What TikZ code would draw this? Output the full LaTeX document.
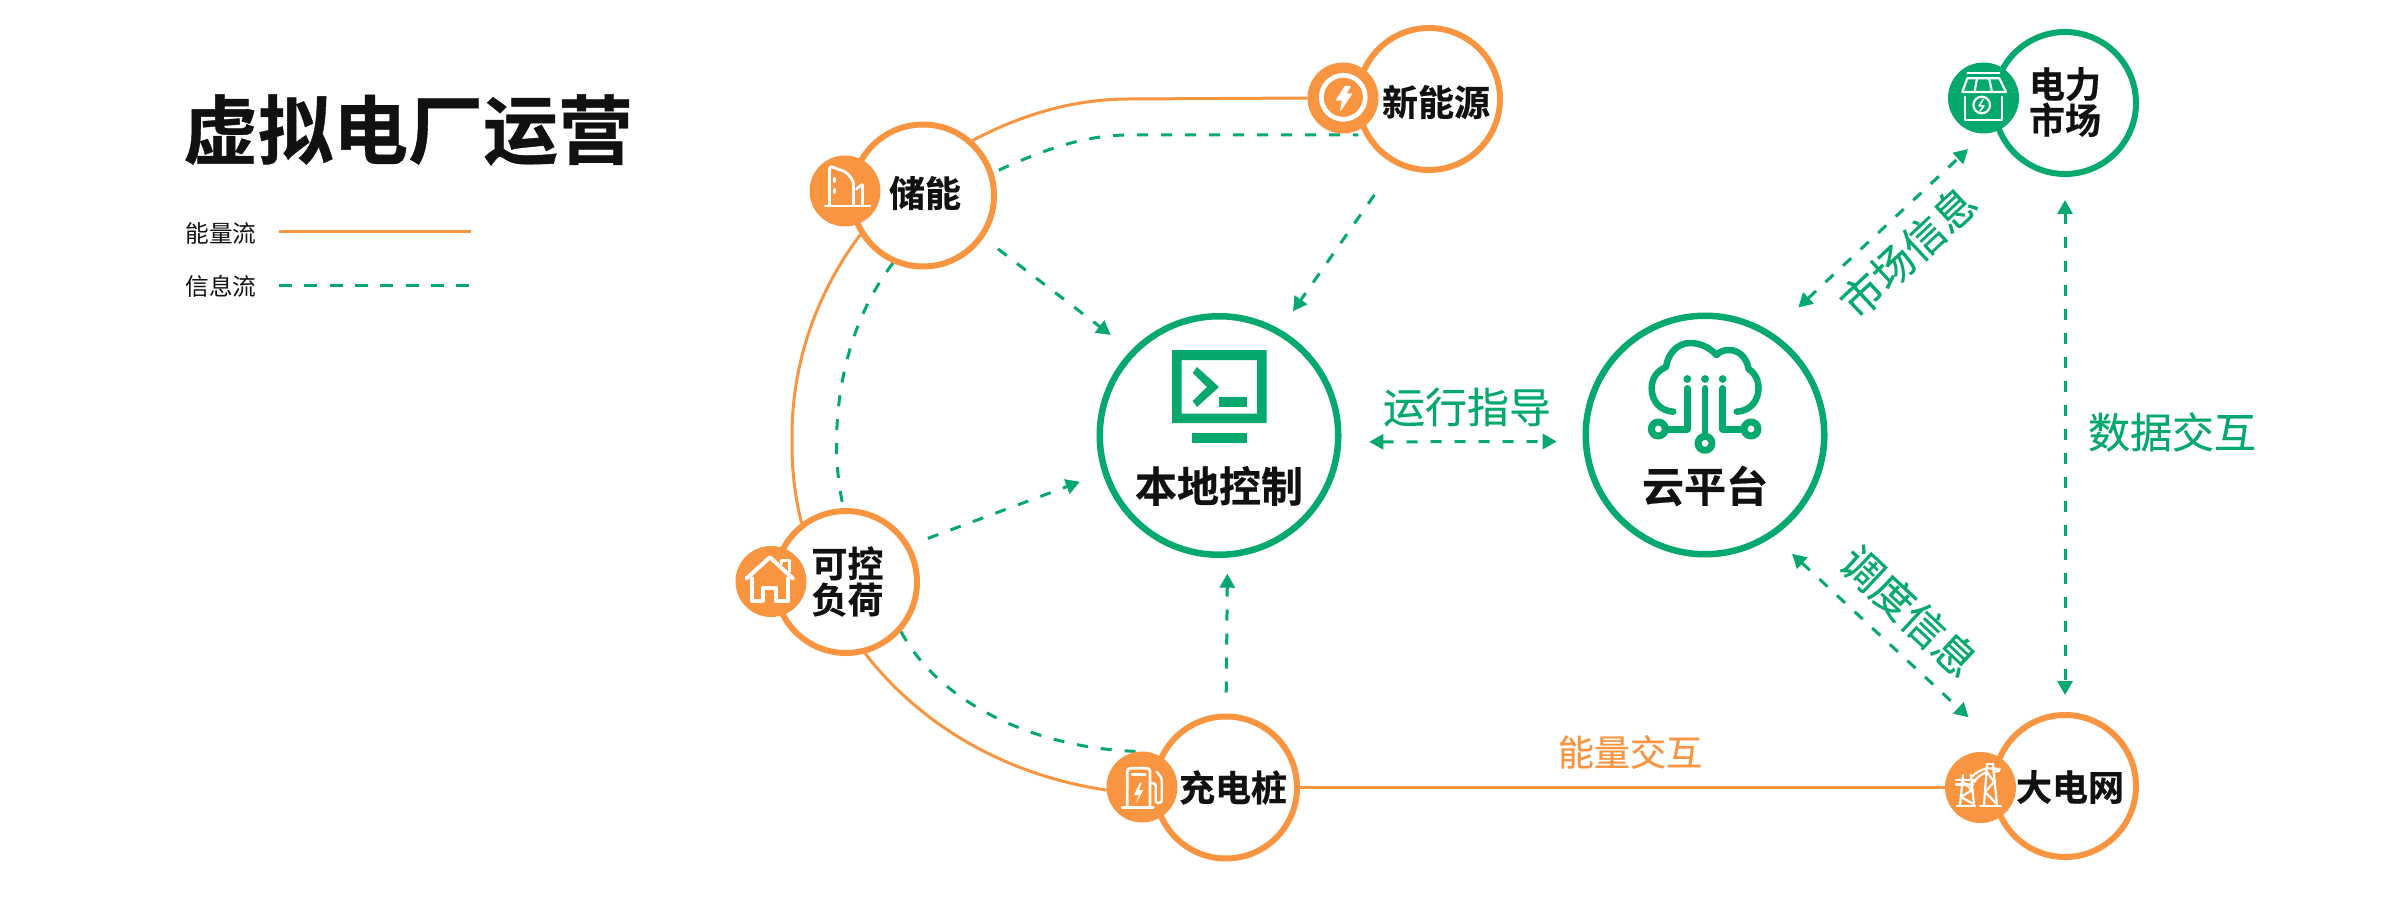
\documentclass[tikz,border=0pt]{standalone}
\usepackage{fontspec}
\usetikzlibrary{arrows.meta,calc}
\newfontfamily\cjk{Noto Sans CJK SC}
\newfontfamily\cjkh[UprightFont=* Bold,FakeBold=0.5]{Noto Sans CJK SC}
\newfontfamily\cjkm[FakeBold=0.25]{Noto Sans CJK SC}
\definecolor{vorange}{HTML}{F99440}
\definecolor{vgreen}{HTML}{05A86D}
\definecolor{vink}{HTML}{111111}
\pgfdeclarelayer{bg}
\pgfsetlayers{bg,main}
\newcommand{\fsz}[1]{\fontsize{#1}{#1}\selectfont}
\tikzset{
  ringO/.style={circle,draw=vorange,line width=6pt,fill=white,minimum size=142pt,inner sep=0pt},
  ringG/.style={circle,draw=vgreen,line width=6pt,fill=white,minimum size=142pt,inner sep=0pt},
  bigG/.style={circle,draw=vgreen,line width=6.5pt,fill=white,minimum size=238.5pt,inner sep=0pt},
  discO/.style={circle,fill=vorange,minimum size=71pt,inner sep=0pt,outer sep=0pt},
  discG/.style={circle,fill=vgreen,minimum size=71pt,inner sep=0pt,outer sep=0pt},
  nameS/.style={font=\cjkh\fsz{36},text=vink,inner sep=0pt,align=center},
  nameB/.style={font=\cjkh\fsz{42},text=vink,inner sep=0pt},
  lblG/.style={font=\cjkm\fsz{42},text=vgreen,inner sep=0pt},
  lblO/.style={font=\cjkm\fsz{36},text=vorange,inner sep=0pt},
  lgd/.style={font=\cjk\fsz{23.7},text=vink,inner sep=0pt},
  energy/.style={draw=vorange,line width=3pt},
  infoflow/.style={draw=vgreen,line width=3pt,dash pattern=on 11pt off 13pt},
  tip/.style={-{Triangle[length=14pt,width=15pt]}},
  tips/.style={{Triangle[length=14pt,width=15pt]}-{Triangle[length=14pt,width=15pt]}},
  icn/.style={draw=white,line width=2.8pt,line join=round,line cap=round},
  gicn/.style={draw=vgreen,line width=6.5pt,line join=round,line cap=round},
}
\begin{document}
\begin{tikzpicture}[x=1pt,y=-1pt]
\useasboundingbox (0,0) rectangle (2401,901);
% title and legend
\node[font=\cjkh\fsz{75},text=vink,inner sep=0pt] (title) at (408,130) {虚拟电厂运营};
\node[lgd] (lg1) at (221,233) {能量流};
\node[lgd] (lg2) at (221,286.5) {信息流};
\coordinate (lg1a) at (279,232); \coordinate (lg1b) at (471,232);
\coordinate (lg2a) at (279,286); \coordinate (lg2b) at (471,286);
\draw[energy] (lg1a) -- (lg1b);
\draw[draw=vgreen,line width=3pt,dash pattern=on 13pt off 12.3pt] (lg2a) -- (lg2b);
% nodes
\node[bigG] (ben) at (1219,435.5) {};
\node[bigG] (yun) at (1705,435) {};
\node[ringO] (chu) at (923,195.5) {};
\node[ringO] (xin) at (1429,99) {};
\node[ringO] (ke) at (846,582) {};
\node[ringO] (chong) at (1226,787.5) {};
\node[ringG] (shi) at (2065,103) {};
\node[ringO] (da) at (2065,786) {};
\node[discO] (chuI) at (845,191) {};
\node[discO] (xinI) at (1343,98) {};
\node[discO] (keI) at (771,581.5) {};
\node[discO] (chongI) at (1142,787) {};
\node[discG] (shiI) at (1983.5,98) {};
\node[discO] (daI) at (1980.5,787.5) {};
\node[nameB] (benT) at (1219,486) {本地控制};
\node[nameB] (yunT) at (1705,486) {云平台};
\node[nameS] (chuT) at (925,193) {储能};
\node[nameS] (xinT) at (1436,102) {新能源};
\node[nameS,text width=74pt] (keT) at (847.5,581.5) {\baselineskip=36pt 可控\\负荷};
\node[nameS] (chongT) at (1233,787.5) {充电桩};
\node[nameS,text width=74pt] (shiT) at (2065,102) {\baselineskip=36pt 电力\\市场};
\node[nameS] (daT) at (2070,787) {大电网};
% labels
\node[lblG] (l1) at (1467,407) {运行指导};
\node[lblG,rotate=43] (l2) at (1908,252) {市场信息};
\node[lblG,rotate=-43] (l3) at (1909,611) {调度信息};
\node[lblG] (l4) at (2172,432) {数据交互};
\node[lblO] (l5) at (1630,752) {能量交互};
% connectors
\begin{pgfonlayer}{bg}
\draw[energy] (chu.48) .. controls (1021.5,114.5) and (1074,99) .. (1129,99) -- (xinI.west);
\draw[energy] (chu.212) .. controls (816.5,293) and (792,363) .. (792,436) -- (792,445) .. controls (792,471) and (795,497) .. (ke.127);
\draw[energy] (ke.285) .. controls (924,729.4) and (1011,776) .. (chongI.185);
\draw[energy] (chong.east) -- (daI.west);
\draw[infoflow,shorten <=6pt,shorten >=6pt] (chu.18) .. controls (1041,151) and (1083,135) .. (1129,135) -- (xin.209.1);
\draw[infoflow] (chu.246) .. controls (854,314) and (836.5,380) .. (836.5,445) .. controls (836.5,466) and (839,487) .. (ke.92);
\draw[infoflow] (ke.318) .. controls (940,705) and (1040,750) .. (chongI.north);
\draw[infoflow,tip,shorten <=18pt,shorten >=25.5pt] (chu.-35.5) -- (ben.136.6);
\draw[infoflow,tip,shorten <=36.5pt,shorten >=22.2pt] (xin.243.6) -- (ben.60.3);
\draw[infoflow,tip,shorten <=19pt,shorten >=24.1pt] (ke.30.7) -- (ben.198.2);
\draw[infoflow,tip,shorten <=21pt,shorten >=16pt] (chong.north) -- (ben.-86.7);
\draw[infoflow,tips,shorten <=28pt,shorten >=26pt] (ben.-3.5) -- (yun.183.75);
\draw[infoflow,tips,shorten <=36.3pt,shorten >=35.8pt] (yun.57) -- (shi.197);
\draw[infoflow,tips,shorten <=25.3pt,shorten >=45pt] (yun.-56.8) -- (da.149.6);
\draw[infoflow,tips,shorten <=23pt,shorten >=17pt] (shi.south) -- (da.north);
\end{pgfonlayer}
% monitor icon
\fill[vgreen,even odd rule] (1172,350) rectangle (1266.5,423) (1181.5,360) rectangle (1257,413.5);
\fill[vgreen] (1192.7,373) -- (1197,367) -- (1219,387) -- (1197,407) -- (1192.7,401) -- (1207,387) -- cycle;
\fill[vgreen] (1219,397) rectangle (1246.5,407);
\fill[vgreen] (1192,433) rectangle (1246.5,443);
% cloud icon
\draw[gicn] (1673.3,411.7) .. controls (1660,411) and (1651.7,401) .. (1651.7,388.3) .. controls (1651.7,378) and (1657,371) .. (1666,367) .. controls (1668,353) and (1678,343) .. (1690,343) .. controls (1701,343) and (1710,348) .. (1716.5,355) .. controls (1720,351) and (1725,350) .. (1729,350) .. controls (1739,350) and (1747,358) .. (1748.5,369) .. controls (1755,373) and (1758.5,380) .. (1758.5,388.3) .. controls (1758.5,401) and (1750,411) .. (1736.7,411.7);
\fill[vgreen] (1687.3,379) circle[radius=3.9pt] (1705,379) circle[radius=3.9pt] (1722.7,379) circle[radius=3.9pt];
\draw[gicn] (1705,388.3) -- (1705,436);
\draw[gicn] (1687.3,388.3) -- (1687.3,429.3) -- (1665,429.3);
\draw[gicn] (1722.7,388.3) -- (1722.7,429.3) -- (1745,429.3);
\draw[gicn,line width=7pt,fill=white] (1705,443.3) circle[radius=7pt];
\draw[gicn,line width=7pt,fill=white] (1658.3,429) circle[radius=7pt];
\draw[gicn,line width=7pt,fill=white] (1751,429) circle[radius=7pt];
% storage icon
\draw[icn] (825,206) -- (870,206);
\draw[icn,rounded corners=3pt] (829.5,206) -- (829.5,166) -- (846,172) -- (853.5,181) -- (853.5,206);
\draw[icn,rounded corners=1pt] (856.5,189) -- (862.5,184) -- (862.5,206);
\draw[icn,line width=3.5pt] (834.5,178.5) -- (834.5,181.5) (834.5,189.5) -- (834.5,192.5);
% new-energy icon
\draw[draw=white,line width=4.7pt] (1343.3,97.3) circle[radius=22pt];
\filldraw[fill=white,draw=white,line width=1.2pt,line join=round] (1345,86.6) -- (1336.6,100) -- (1342.6,100) -- (1340.6,110) -- (1351.6,94) -- (1345.6,94) -- (1350,86.6) -- cycle;
% house icon
\draw[icn,line width=4pt] (746.7,578.3) -- (770,557.3) -- (792.7,578.3);
\draw[icn,line width=4pt] (751.7,578.3) -- (751.7,600.7) -- (762.7,600.7) -- (762.7,588.3) -- (776,588.3) -- (776,600.7) -- (788.3,600.7) -- (788.3,578.3);
\draw[icn,line width=3pt] (781,563.5) -- (781,560) -- (789,560) -- (789,571.7);
% charger icon
\draw[icn] (1122.3,807.3) -- (1153.3,807.3);
\draw[icn,rounded corners=3pt] (1127.3,807) -- (1127.3,768.3) -- (1150,768.3) -- (1150,807);
\draw[icn,line width=3pt] (1132,774.3) -- (1145,774.3);
\fill[white] (1140,782.7) -- (1134,795) -- (1138.7,795) -- (1136,803.3) -- (1143.3,790) -- (1139,790) -- (1141.7,782.7) -- cycle;
\draw[icn,line width=2.4pt,rounded corners=2.5pt] (1150,783.3) -- (1155.7,783.3) -- (1155.7,803) -- (1161.7,803) -- (1161.7,778) -- (1156.7,771.7);
% tower icon
\begin{scope}[icn,line width=2.2pt]
\draw (1956.7,805.7) -- (1975,805.7) (1980,805.7) -- (2001,805.7);
\draw (1963,775) -- (1960,805) (1971,775) -- (1974,805);
\draw (1963,782) -- (1972,790) -- (1961,797) -- (1973.5,804);
\draw (1956,780) -- (1975,780) (1956,784.5) -- (1973,784.5);
\draw (1987,764) -- (1984,805) (1993,764) -- (1997,805);
\draw (1987,772) -- (1994,782) -- (1985,792) -- (1996,803);
\draw (1987,764) -- (1993,764);
\draw (1971.7,776.7) .. controls (1976,772) and (1981,770) .. (1987,768.3);
\draw (1974,782) .. controls (1978,776) and (1982,774) .. (1987,772);
\draw (1987,768.3) -- (2000,769) (1993,772) -- (1999,771);
\end{scope}
% market icon
\begin{scope}[icn,line width=2.2pt]
\draw (1967.3,73.3) -- (1999.3,73.3);
\draw (1967.3,78.3) -- (1999.3,78.3) -- (2006,92) -- (1962.3,92) -- cycle;
\draw (1977,78.3) -- (1974.5,92) (1989,78.3) -- (1992,92);
\draw (1965,97) -- (1965,120) -- (2001.7,120) -- (2001.7,97);
\draw (1981.7,105) circle[radius=8.3pt];
\draw[line width=1.5pt] (1983,99.5) -- (1979,106) -- (1984,106) -- (1980,111);
\end{scope}
\end{tikzpicture}
\end{document}
